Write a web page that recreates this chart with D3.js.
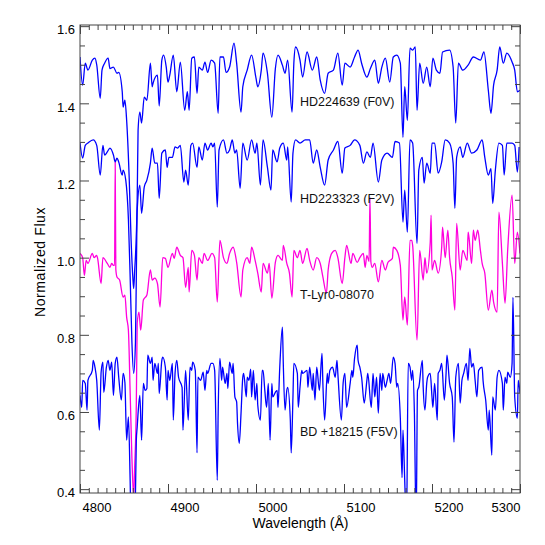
<!DOCTYPE html>
<html>
<head>
<meta charset="utf-8">
<script src="https://cdn.jsdelivr.net/npm/d3@7"></script>
<style>
  body { margin: 0; background: #fff; }
  text { font-family: "Liberation Sans", Arial, sans-serif; }
</style>
</head>
<body>
<div id="chart"></div>
<script>
// spectra, [wavelength (A), normalized flux]
const hd224639 = [
  [4800,1.52],[4803,1.447],[4806,1.504],[4809,1.486],[4814,1.512],[4817,1.517],[4819,1.50],[4823,1.413],
  [4825,1.486],[4828,1.504],[4832,1.517],[4834,1.49],[4838,1.494],[4842,1.478],[4844,1.48],[4848,1.43],
  [4849,1.39],[4851,1.408],[4853,1.356],[4856,1.20],[4858,1.05],[4860,0.95],[4861,0.92],[4862,0.96],
  [4865,1.15],[4866,1.33],[4868,1.377],[4870,1.349],[4873,1.416],[4876,1.408],[4880,1.504],[4882,1.443],
  [4883,1.452],[4888,1.473],[4890,1.393],[4893,1.512],[4895,1.525],[4898,1.494],[4900,1.455],[4902,1.473],
  [4906,1.525],[4910,1.43],[4914,1.507],[4919,1.382],[4922,1.43],[4924,1.382],[4927,1.517],[4930,1.52],
  [4933,1.426],[4935,1.494],[4939,1.486],[4942,1.507],[4945,1.48],[4949,1.512],[4953,1.504],[4957,1.374],
  [4959,1.52],[4963,1.52],[4966,1.48],[4970,1.494],[4975,1.556],[4978,1.504],[4983,1.377],[4985,1.443],
  [4990,1.486],[4995,1.525],[5000,1.465],[5002,1.443],[5006,1.486],[5008,1.53],[5013,1.478],[5018,1.364],
  [5022,1.49],[5025,1.525],[5030,1.499],[5033,1.478],[5036,1.512],[5041,1.377],[5043,1.504],[5045,1.546],
  [5050,1.512],[5053,1.468],[5058,1.533],[5064,1.486],[5069,1.52],[5073,1.46],[5078,1.426],[5082,1.478],
  [5088,1.486],[5093,1.53],[5098,1.447],[5101,1.504],[5107,1.494],[5112,1.52],[5116,1.538],[5120,1.504],
  [5126,1.468],[5130,1.49],[5135,1.512],[5139,1.452],[5143,1.494],[5147,1.517],[5152,1.455],[5156,1.52],
  [5160,1.525],[5164,1.504],[5167,1.312],[5169,1.443],[5172,1.356],[5175,1.543],[5178,1.538],[5181,1.546],
  [5183,1.382],[5186,1.504],[5190,1.452],[5194,1.494],[5198,1.443],[5201,1.517],[5205,1.486],[5209,1.478],
  [5212,1.533],[5220,1.538],[5224,1.494],[5227,1.349],[5230,1.504],[5235,1.486],[5241,1.499],[5247,1.52],
  [5255,1.512],[5259,1.533],[5264,1.434],[5267,1.374],[5270,1.447],[5274,1.486],[5277,1.546],[5281,1.504],
  [5285,1.53],[5291,1.507],[5294,1.486],[5297,1.43],[5300,1.434]
];

const hd223323 = [
  [4800,1.297],[4803,1.258],[4806,1.291],[4809,1.297],[4815,1.305],[4819,1.291],[4823,1.214],[4826,1.291],
  [4828,1.266],[4831,1.274],[4834,1.284],[4838,1.266],[4840,1.248],[4842,1.258],[4844,1.248],[4848,1.214],
  [4849,1.227],[4852,1.201],[4855,1.10],[4857,0.95],[4859,0.78],[4861,0.70],[4863,0.78],[4864,0.95],
  [4865,1.123],[4868,1.188],[4870,1.115],[4873,1.183],[4876,1.201],[4880,1.245],[4882,1.284],[4885,1.245],
  [4888,1.245],[4890,1.154],[4893,1.271],[4897,1.279],[4899,1.234],[4901,1.26],[4905,1.26],[4908,1.287],
  [4911,1.284],[4914,1.291],[4918,1.196],[4920,1.227],[4923,1.188],[4926,1.291],[4928,1.297],[4933,1.234],
  [4935,1.287],[4939,1.253],[4942,1.297],[4945,1.279],[4949,1.297],[4951,1.287],[4953,1.297],[4956,1.131],
  [4958,1.279],[4963,1.305],[4967,1.271],[4970,1.279],[4973,1.305],[4976,1.271],[4978,1.279],[4982,1.18],
  [4985,1.297],[4990,1.253],[4995,1.305],[4999,1.271],[5001,1.297],[5005,1.188],[5008,1.305],[5013,1.234],
  [5017,1.175],[5019,1.279],[5024,1.248],[5027,1.284],[5031,1.297],[5035,1.253],[5036,1.287],[5040,1.144],
  [5042,1.271],[5045,1.305],[5050,1.297],[5056,1.305],[5061,1.305],[5065,1.245],[5069,1.279],[5073,1.234],
  [5078,1.188],[5082,1.253],[5088,1.279],[5093,1.301],[5098,1.219],[5101,1.284],[5107,1.291],[5112,1.305],
  [5118,1.291],[5122,1.245],[5126,1.274],[5130,1.26],[5133,1.297],[5139,1.196],[5143,1.253],[5149,1.271],
  [5155,1.26],[5158,1.301],[5163,1.297],[5167,1.092],[5169,1.175],[5172,1.066],[5175,1.305],[5178,1.297],
  [5183,1.037],[5185,1.227],[5189,1.26],[5191,1.193],[5194,1.245],[5198,1.219],[5200,1.297],[5203,1.297],
  [5207,1.219],[5211,1.248],[5215,1.305],[5220,1.297],[5224,1.245],[5226,1.128],[5228,1.26],[5232,1.287],
  [5235,1.26],[5240,1.297],[5245,1.271],[5251,1.279],[5257,1.305],[5260,1.26],[5264,1.214],[5267,1.231],
  [5269,1.141],[5272,1.227],[5276,1.297],[5280,1.291],[5282,1.214],[5285,1.297],[5291,1.297],[5294,1.291],
  [5297,1.222],[5299,1.287]
];

const tlyr08070 = [
  [4800,1.011],[4803,1.0],[4805,0.954],[4807,0.993],[4809,0.985],[4814,1.011],[4816,1.0],[4819,1.006],
  [4820,0.998],[4824,0.933],[4826,1.0],[4831,0.985],[4834,0.975],[4836,0.985],[4838,0.98],[4839.3,0.98],
  [4840,1.248],[4840.7,0.97],[4842,0.95],[4845,0.942],[4849,0.898],[4851,0.903],[4853,0.846],[4855,0.812],
  [4857,0.65],[4859,0.48],[4861,0.38],[4862,0.45],[4864,0.62],[4865,0.83],[4867,0.859],[4869,0.812],
  [4872,0.89],[4876,0.903],[4880,0.968],[4882,0.942],[4885,0.947],[4888,0.933],[4891,0.872],[4894,1.0],
  [4897,0.998],[4900,0.975],[4905,1.011],[4907,0.998],[4910,1.027],[4914,1.006],[4917,1.0],[4920,0.923],
  [4923,0.975],[4924,0.911],[4927,1.019],[4930,1.006],[4933,0.942],[4935,1.0],[4939,0.985],[4941,1.011],
  [4945,0.993],[4950,1.011],[4953,1.0],[4956,0.885],[4959,1.045],[4963,1.0],[4967,0.985],[4970,1.011],
  [4974,1.027],[4978,0.988],[4983,0.898],[4985,0.968],[4990,1.0],[4993,0.985],[4995,1.027],[4999,0.993],
  [5002,0.96],[5006,0.911],[5008,0.985],[5013,0.96],[5015,0.985],[5018,0.895],[5022,0.988],[5025,1.006],
  [5030,0.993],[5031,1.032],[5035,0.985],[5038,0.96],[5041,0.898],[5043,1.019],[5047,1.0],[5050,1.019],
  [5053,0.985],[5058,1.024],[5061,0.993],[5065,0.968],[5069,1.0],[5073,0.985],[5076,0.95],[5080,0.908],
  [5082,0.968],[5086,1.011],[5090,1.019],[5093,1.0],[5098,0.933],[5101,1.0],[5103,1.032],[5108,0.985],
  [5110,1.011],[5115,0.988],[5118,1.0],[5122,1.011],[5124,0.975],[5126,1.006],[5128.5,0.99],[5129.5,1.157],
  [5130.5,0.99],[5132,0.975],[5135,0.985],[5139,0.937],[5143,0.993],[5147,0.968],[5150,0.988],[5155,0.998],
  [5156,1.027],[5160,1.019],[5164,0.98],[5167,0.838],[5169,0.898],[5172,0.825],[5175,1.045],[5177,1.045],
  [5178,1.032],[5183,0.786],[5186,1.019],[5190,0.942],[5192,1.0],[5194,0.96],[5198,1.04],[5199,1.11],
  [5200,0.968],[5203,0.993],[5207,0.96],[5211,1.027],[5212,1.079],[5215,1.0],[5218,1.071],[5220,1.0],
  [5223,0.95],[5226,0.864],[5228,1.089],[5232,0.968],[5235,1.019],[5240,0.993],[5241,1.066],[5242,1.053],
  [5245,0.985],[5247,1.071],[5249,1.045],[5252,1.071],[5255,1.019],[5257,0.985],[5260,0.96],[5264,0.864],
  [5268,0.916],[5270,0.885],[5274,0.859],[5276,1.118],[5280,0.985],[5283,0.882],[5286,1.019],[5291,1.162],
  [5294,0.985],[5297,1.066],[5300,1.011]
];

const bd18215 = [
  [4800,0.643],[4802,0.612],[4803,0.682],[4806,0.674],[4808,0.605],[4809,0.682],[4814,0.708],[4815,0.734],
  [4817,0.716],[4819,0.682],[4822,0.553],[4824,0.703],[4826,0.729],[4827,0.651],[4830,0.716],[4832,0.734],
  [4834,0.708],[4836,0.729],[4838,0.643],[4840,0.726],[4842,0.742],[4844,0.69],[4847,0.631],[4849,0.70],
  [4851,0.677],[4853,0.527],[4855,0.587],[4857,0.42],[4859,0.18],[4861,0.10],[4862.5,0.30],[4864,0.527],
  [4865,0.561],[4866,0.597],[4868,0.643],[4870,0.527],[4872,0.674],[4874,0.656],[4876,0.661],[4877,0.747],
  [4880,0.726],[4882,0.742],[4883,0.682],[4885,0.726],[4888,0.70],[4889,0.726],[4890,0.648],[4893,0.734],
  [4894,0.742],[4897,0.716],[4899,0.631],[4900,0.708],[4902,0.682],[4905,0.726],[4906,0.579],[4908,0.70],
  [4910,0.734],[4912,0.69],[4916,0.664],[4917,0.553],[4920,0.708],[4923,0.579],[4925,0.716],[4927,0.708],
  [4928,0.729],[4931,0.708],[4933,0.494],[4934,0.69],[4937,0.682],[4940,0.703],[4942,0.656],[4944,0.708],
  [4945,0.70],[4949,0.726],[4951,0.726],[4953,0.708],[4956,0.423],[4957,0.597],[4959,0.739],[4961,0.682],
  [4962,0.716],[4965,0.674],[4967,0.70],[4968,0.661],[4970,0.729],[4973,0.70],[4974,0.726],[4976,0.639],
  [4978,0.626],[4979,0.571],[4981,0.519],[4983,0.597],[4985,0.69],[4986,0.70],[4989,0.639],[4990,0.69],
  [4992,0.682],[4994,0.711],[4995,0.639],[4997,0.708],[4999,0.631],[5001,0.674],[5002,0.618],[5005,0.579],
  [5007,0.708],[5008,0.708],[5010,0.656],[5012,0.612],[5014,0.674],[5016,0.527],[5018,0.674],[5019,0.639],
  [5022,0.651],[5024,0.656],[5025,0.612],[5027,0.716],[5030,0.82],[5031,0.726],[5033,0.605],[5035,0.656],
  [5036,0.664],[5039,0.579],[5040,0.494],[5042,0.639],[5043,0.726],[5047,0.70],[5048,0.612],[5050,0.664],
  [5052,0.708],[5053,0.70],[5058,0.708],[5059,0.664],[5061,0.716],[5064,0.656],[5065,0.70],[5067,0.631],
  [5069,0.716],[5072,0.656],[5075,0.752],[5076,0.674],[5078,0.579],[5081,0.70],[5082,0.674],[5084,0.708],
  [5087,0.716],[5090,0.69],[5092,0.734],[5093,0.70],[5097,0.579],[5099,0.674],[5101,0.70],[5103,0.612],
  [5107,0.674],[5109,0.708],[5110,0.69],[5112,0.739],[5115,0.773],[5116,0.734],[5118,0.716],[5120,0.69],
  [5123,0.623],[5126,0.682],[5127,0.70],[5131,0.612],[5133,0.70],[5135,0.639],[5137,0.69],[5139,0.597],
  [5141,0.70],[5143,0.656],[5144,0.70],[5147,0.664],[5149,0.682],[5151,0.70],[5153,0.674],[5156,0.742],
  [5158,0.726],[5160,0.664],[5161,0.674],[5164,0.584],[5166,0.43],[5167,0.553],[5169,0.423],[5171,0.30],
  [5173,0.726],[5175,0.716],[5177,0.682],[5178,0.708],[5180,0.597],[5182,0.30],[5183.5,0.656],[5185,0.664],
  [5189,0.734],[5190,0.664],[5192,0.605],[5194,0.674],[5195,0.69],[5198,0.70],[5200,0.639],[5201,0.612],
  [5203,0.674],[5206,0.579],[5207,0.70],[5209,0.708],[5211,0.726],[5214,0.631],[5216,0.70],[5217,0.747],
  [5220,0.674],[5223,0.639],[5225,0.522],[5227,0.69],[5230,0.726],[5232,0.623],[5234,0.682],[5236,0.70],
  [5239,0.726],[5241,0.682],[5243,0.765],[5245,0.716],[5247,0.726],[5249,0.682],[5251,0.639],[5253,0.708],
  [5257,0.716],[5258,0.682],[5261,0.631],[5264,0.553],[5265,0.605],[5268,0.488],[5269,0.639],[5272,0.605],
  [5274,0.69],[5276,0.708],[5280,0.674],[5281,0.605],[5283,0.69],[5285,0.674],[5286,0.703],[5289,0.69],
  [5291,0.726],[5292,0.897],[5294,0.639],[5297,0.584],[5298,0.682],[5300,0.649]
];

const seriesNames = ["HD224639 (F0V)", "HD223323 (F2V)", "T-Lyr0-08070", "BD +18215 (F5V)"];
const seriesColors = ["#0000ff", "#0000ff", "#ff00dd", "#0000ff"];
// where each name sits, in data units
const labelAt = [[5050, 1.405], [5050, 1.152], [5050, 0.903], [5050, 0.548]];

const xTicks = [4800, 4900, 5000, 5100, 5200, 5300];
const yTicks = [0.4, 0.6, 0.8, 1.0, 1.2, 1.4, 1.6];

const W = 545, H = 545;
const margin = { top: 25, right: 25, bottom: 52, left: 80 };
const iw = W - margin.left - margin.right;
const ih = H - margin.top - margin.bottom;

const svg = d3.select("#chart").append("svg")
  .attr("width", W).attr("height", H);

const g = svg.append("g").attr("transform", `translate(${margin.left},${margin.top})`);

const x = d3.scaleLinear().domain([4800, 5300]).range([0, iw]);
const y = d3.scaleLinear().domain([0.39, 1.603]).range([ih, 0]);

g.append("clipPath").attr("id", "clip")
  .append("rect").attr("width", iw).attr("height", ih);

const line = d3.line()
  .x(d => x(d[0]))
  .y(d => y(d[1]))
  .curve(d3.curveMonotoneX);

const spectra = [hd224639, hd223323, tlyr08070, bd18215];
// magenta first so blue sits over it at H-beta
[2, 0, 1, 3].forEach(i => {
  g.append("path")
    .datum(spectra[i])
    .attr("clip-path", "url(#clip)")
    .attr("fill", "none")
    .attr("stroke", seriesColors[i])
    .attr("stroke-width", 1.3)
    .attr("stroke-linejoin", "round")
    .attr("d", line);
});

// star names
seriesNames.forEach((name, i) => {
  g.append("text")
    .attr("x", x(labelAt[i][0]))
    .attr("y", y(labelAt[i][1]))
    .attr("dy", "0.35em")
    .style("font-size", "12.5px")
    .style("fill", "#111")
    .text(name);
});

// axes: major + minor ticks pointing inward on all four sides
const axisColor = "#444";
const minorX = d3.range(4800, 5301, 10).filter(v => v % 100 !== 0);
const minorY = d3.range(0.4, 1.601, 0.05).filter((v, i) => i % 4 !== 0);

function styleAxis(sel) {
  sel.select(".domain").remove();
  sel.selectAll("line").attr("stroke", axisColor);
}

const bottom = g.append("g").attr("transform", `translate(0,${ih})`)
  .call(d3.axisBottom(x).tickValues(xTicks).tickSize(-9).tickPadding(10).tickFormat(d3.format("d")));
styleAxis(bottom);
bottom.selectAll("text")
  .style("font-size", "13px").style("fill", "#000")
  .attr("text-anchor", (d, i) => i === xTicks.length - 1 ? "end" : "start")
  .attr("dx", (d, i) => i === xTicks.length - 1 ? 0 : 2);

g.append("g").attr("transform", `translate(0,${ih})`)
  .call(d3.axisBottom(x).tickValues(minorX).tickSize(-5).tickFormat(""))
  .call(styleAxis);

g.append("g")
  .call(d3.axisTop(x).tickValues(xTicks).tickSize(-9).tickFormat(""))
  .call(styleAxis);
g.append("g")
  .call(d3.axisTop(x).tickValues(minorX).tickSize(-5).tickFormat(""))
  .call(styleAxis);

const left = g.append("g")
  .call(d3.axisLeft(y).tickValues(yTicks).tickSize(-9).tickPadding(5).tickFormat(d3.format(".1f")));
styleAxis(left);
left.selectAll("text").style("font-size", "13px").style("fill", "#000").attr("dy", "0.6em");

g.append("g")
  .call(d3.axisLeft(y).tickValues(minorY).tickSize(-5).tickFormat(""))
  .call(styleAxis);

g.append("g").attr("transform", `translate(${iw},0)`)
  .call(d3.axisRight(y).tickValues(yTicks).tickSize(-9).tickFormat(""))
  .call(styleAxis);
g.append("g").attr("transform", `translate(${iw},0)`)
  .call(d3.axisRight(y).tickValues(minorY).tickSize(-5).tickFormat(""))
  .call(styleAxis);

// frame
g.append("rect")
  .attr("width", iw).attr("height", ih)
  .attr("fill", "none").attr("stroke", axisColor).attr("stroke-width", 1);

// axis titles
svg.append("text")
  .attr("x", margin.left + iw / 2 + 0.5)
  .attr("y", 528)
  .attr("text-anchor", "middle")
  .style("font-size", "14px")
  .text("Wavelength (Å)");

svg.append("text")
  .attr("transform", `translate(45,${margin.top + ih / 2 + 3}) rotate(-90)`)
  .attr("text-anchor", "middle")
  .style("font-size", "14px")
  .style("letter-spacing", "0.6px")
  .text("Normalized Flux");
</script>
</body>
</html>
